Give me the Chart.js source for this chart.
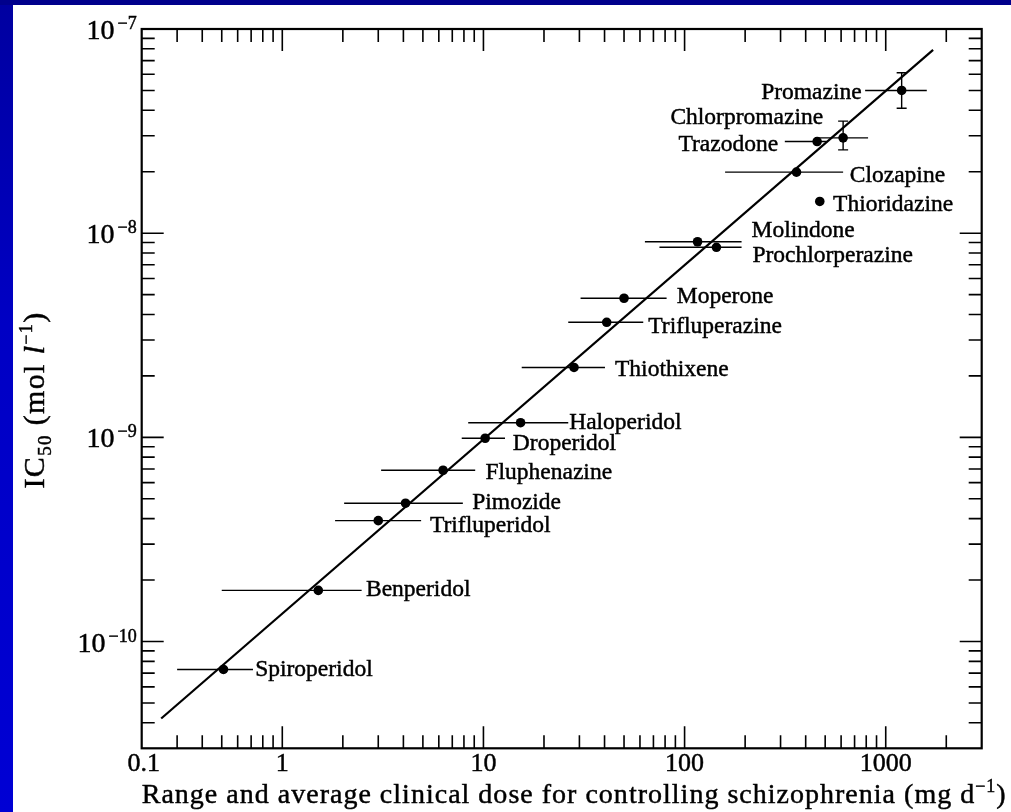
<!DOCTYPE html>
<html><head><meta charset="utf-8">
<script src="https://cdn.jsdelivr.net/npm/chart.js@4.4.1/dist/chart.umd.min.js"></script>
<style>html,body{margin:0;padding:0;background:#fff;overflow:hidden}canvas{display:block}</style>
</head><body>
<canvas id="c" width="1011" height="812"></canvas>
<script>
// ---- data ----
const drugs = ['Promazine','Chlorpromazine','Trazodone','Clozapine','Thioridazine','Molindone','Prochlorperazine','Moperone','Trifluperazine','Thiothixene','Haloperidol','Droperidol','Fluphenazine','Pimozide','Trifluperidol','Benperidol','Spiroperidol'];
const doseAvg = [1200, 614, 456, 360, 470, 116, 144, 50, 41, 28.2, 15.3, 10.2, 6.3, 4.1, 3.0, 1.51, 0.51];
const doseMin = [790, 444, 315, 159, null, 63.5, 75, 30.4, 26.4, 15.5, 8.4, 7.8, 3.1, 2.03, 1.83, 0.5, 0.3];
const doseMax = [1600, 817, 508, 614, null, 192, 192, 81.4, 62.3, 40.2, 26.4, 12.8, 9.1, 7.9, 4.9, 2.48, 0.715];
const ic50 = [5.0e-8, 2.93e-8, 2.81e-8, 1.99e-8, 1.43e-8, 9.08e-9, 8.53e-9, 4.8e-9, 3.66e-9, 2.2e-9, 1.18e-9, 9.9e-10, 6.9e-10, 4.76e-10, 3.91e-10, 1.78e-10, 7.3e-11];
const ic50Min = [4.09e-8, 2.56e-8, null, null, null, null, null, null, null, null, null, null, null, null, null, null, null];
const ic50Max = [6.11e-8, 3.54e-8, null, null, null, null, null, null, null, null, null, null, null, null, null, null, null];
const fitX = [0.25, 1720];
const fitY = [4.2e-11, 7.9e-8];
// axis ticks
const xTickValues = [0.2, 1, 10, 100, 1000];
const xTickLabels = ['0.1', '1', '10', '100', '1000'];
const yTickValues = [1e-7, 1e-8, 1e-9, 1e-10];
const yTickExps = ['7', '8', '9', '10'];
const xMinorTicks = [0.3,0.4,0.5,0.6,0.7,0.8,0.9, 2,3,4,5,6,7,8,9, 20,30,40,50,60,70,80,90, 200,300,400,500,600,700,800,900, 2000];
const yMinorTicks = [4e-11,5e-11,6e-11,7e-11,8e-11,9e-11, 2e-10,3e-10,4e-10,5e-10,6e-10,7e-10,8e-10,9e-10, 2e-9,3e-9,4e-9,5e-9,6e-9,7e-9,8e-9,9e-9, 2e-8,3e-8,4e-8,5e-8,6e-8,7e-8,8e-8,9e-8];
const xTitle = 'Range and average clinical dose for controlling schizophrenia (mg d';
// label placement (pixel offsets from the point)
const labelLayout = [
  {dx:-40, dy:8.3, align:'right'}, {dx:-20, dy:-13.7, align:'right'}, {dx:-39, dy:9, align:'right'},
  {dx:53.3, dy:9.4, align:'left'}, {dx:13.3, dy:10, align:'left'}, {dx:54, dy:-4.4, align:'left'},
  {dx:36, dy:14.4, align:'left'}, {dx:52.7, dy:4.4, align:'left'}, {dx:41.6, dy:10.4, align:'left'},
  {dx:41, dy:8.7, align:'left'}, {dx:48.6, dy:6.6, align:'left'}, {dx:27.7, dy:11.7, align:'left'},
  {dx:42.4, dy:8.3, align:'left'}, {dx:66.7, dy:6, align:'left'}, {dx:51.7, dy:11, align:'left'},
  {dx:47.7, dy:6, align:'left'}, {dx:31.7, dy:6.7, align:'left'}
];

const SERIF = "'Liberation Serif', 'DejaVu Serif', serif";

function txt(ctx, s, x, y) { ctx.fillText(s, x, y); ctx.strokeText(s, x, y); }

const decor = {
  id: 'decor',
  beforeDraw(chart) {
    const ctx = chart.ctx, W = chart.width, H = chart.height;
    ctx.save();
    ctx.fillStyle = '#fff'; ctx.fillRect(0, 0, W, H);
    const g = ctx.createLinearGradient(0, 0, 0, H);
    g.addColorStop(0, '#0000a0'); g.addColorStop(0.4, '#0000c4'); g.addColorStop(1, '#0000d4');
    ctx.fillStyle = g; ctx.fillRect(0, 0, 13, H);
    ctx.fillStyle = '#00008c'; ctx.fillRect(0, 0, W, 5);
    ctx.restore();
  },
  beforeDatasetsDraw(chart) {
    const ctx = chart.ctx, xs = chart.scales.x, ys = chart.scales.y;
    ctx.save();
    ctx.strokeStyle = '#000'; ctx.lineWidth = 1.4;
    for (let i = 0; i < drugs.length; i++) {
      const py = ys.getPixelForValue(ic50[i]);
      if (doseMin[i] != null) {
        ctx.beginPath();
        ctx.moveTo(xs.getPixelForValue(doseMin[i]), py);
        ctx.lineTo(xs.getPixelForValue(doseMax[i]), py);
        ctx.stroke();
      }
      if (ic50Min[i] != null) {
        const px = xs.getPixelForValue(doseAvg[i]);
        const y1 = ys.getPixelForValue(ic50Min[i]), y2 = ys.getPixelForValue(ic50Max[i]);
        ctx.beginPath();
        ctx.moveTo(px, y1); ctx.lineTo(px, y2);
        ctx.moveTo(px - 5, y1); ctx.lineTo(px + 5, y1);
        ctx.moveTo(px - 5, y2); ctx.lineTo(px + 5, y2);
        ctx.stroke();
      }
    }
    ctx.restore();
  },
  afterDraw(chart) {
    const ctx = chart.ctx, xs = chart.scales.x, ys = chart.scales.y, a = chart.chartArea;
    ctx.save();
    ctx.strokeStyle = '#000';
    // ticks (inward, all four sides)
    ctx.lineWidth = 1.6;
    const xt = (v, len) => { const p = xs.getPixelForValue(v); ctx.beginPath(); ctx.moveTo(p, a.bottom); ctx.lineTo(p, a.bottom - len); ctx.moveTo(p, a.top); ctx.lineTo(p, a.top + len); ctx.stroke(); };
    const yt = (v, len) => { const p = ys.getPixelForValue(v); ctx.beginPath(); ctx.moveTo(a.left, p); ctx.lineTo(a.left + len, p); ctx.moveTo(a.right, p); ctx.lineTo(a.right - len, p); ctx.stroke(); };
    xMinorTicks.forEach(v => xt(v, 13));
    xTickValues.slice(1).forEach(v => xt(v, 22));
    yMinorTicks.forEach(v => yt(v, 13));
    yTickValues.slice(1).forEach(v => yt(v, 22));
    // frame
    ctx.lineWidth = 2.2;
    ctx.strokeRect(a.left, a.top, a.right - a.left, a.bottom - a.top);
    // text style (slightly heavy, like the printed scan)
    ctx.fillStyle = '#000'; ctx.lineWidth = 0.45; ctx.textBaseline = 'alphabetic';
    // x tick labels
    ctx.font = '26px ' + SERIF; ctx.textAlign = 'center';
    xTickValues.forEach((v, i) => { txt(ctx, xTickLabels[i], xs.getPixelForValue(v) + (i === 0 ? 2 : 0), 771); });
    // y tick labels 10^-n
    yTickValues.forEach((v, i) => {
      const p = ys.getPixelForValue(v);
      ctx.textAlign = 'right';
      ctx.font = '18px ' + SERIF;
      const ex = '\u2212' + yTickExps[i];
      const ew = ctx.measureText(ex).width;
      txt(ctx, ex, a.left - 5, p);
      ctx.font = '28px ' + SERIF;
      txt(ctx, '10', a.left - 8 - ew, p + 10);
    });
    // point labels
    ctx.font = '23.5px ' + SERIF;
    drugs.forEach((name, i) => {
      const L = labelLayout[i];
      ctx.textAlign = L.align;
      txt(ctx, name, xs.getPixelForValue(doseAvg[i]) + L.dx, ys.getPixelForValue(ic50[i]) + L.dy);
    });
    // x axis title
    ctx.textAlign = 'left';
    const partsX = [[xTitle, '28px ' + SERIF, 0], ['\u22121', '18px ' + SERIF, -11], [')', '28px ' + SERIF, 0]];
    drawParts(ctx, partsX, a.left, 803, 865);
    // y axis title (rotated)
    ctx.translate(44, 400);
    ctx.rotate(-Math.PI / 2);
    const partsY = [['IC', '30px ' + SERIF, 0], ['50', '19px ' + SERIF, 7], [' (mol ', '30px ' + SERIF, 0], ['l', 'italic 30px ' + SERIF, 0], ['\u22121', '18px ' + SERIF, -12], [')', '30px ' + SERIF, 0]];
    drawParts(ctx, partsY, -177 / 2, 0, 177);
    ctx.restore();
  }
};
function drawParts(ctx, parts, x0, y0, target) {
  let w = 0, n = 0;
  parts.forEach(p => { ctx.font = p[1]; w += ctx.measureText(p[0]).width; n += p[0].length; });
  const sp = Math.max(0, (target - w) / n);
  let x = x0;
  parts.forEach(p => {
    ctx.font = p[1];
    for (const ch of p[0]) { txt(ctx, ch, x, y0 + p[2]); x += ctx.measureText(ch).width + sp; }
  });
}

new Chart(document.getElementById('c'), {
  type: 'scatter',
  data: {
    datasets: [
      { label: 'fit', data: fitX.map((x, i) => ({x, y: fitY[i]})), showLine: true, borderColor: '#000', borderWidth: 2.2, pointRadius: 0, fill: false },
      { label: 'drugs', data: doseAvg.map((x, i) => ({x, y: ic50[i]})), pointRadius: 4.8, pointBackgroundColor: '#000', pointBorderWidth: 0, showLine: false }
    ]
  },
  options: {
    responsive: false, animation: false, devicePixelRatio: 1,
    layout: { padding: { left: 141.7, right: 29.3, top: 29, bottom: 63.7 } },
    plugins: { legend: { display: false }, tooltip: { enabled: false } },
    scales: {
      x: { type: 'logarithmic', min: 0.2, max: 3000, display: false },
      y: { type: 'logarithmic', min: 3e-11, max: 1e-7, display: false }
    }
  },
  plugins: [decor]
});
</script>
</body></html>
